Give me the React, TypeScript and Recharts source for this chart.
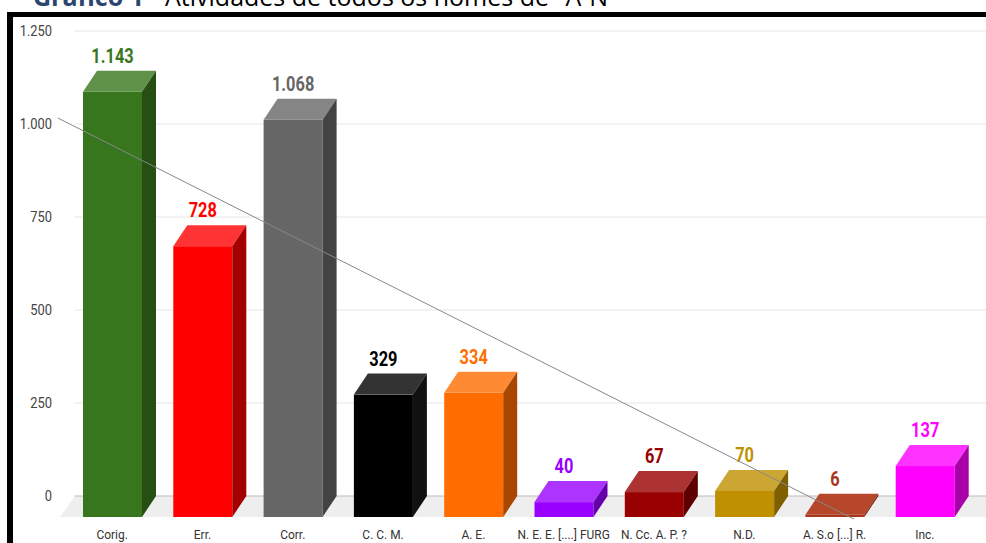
import React from 'react';
import { ComposedChart, Bar, XAxis, YAxis, ReferenceLine, ReferenceArea } from 'recharts';

const categories = ['Corig.', 'Err.', 'Corr.', 'C. C. M.', 'A. E.', 'N. E. E. [....] FURG', 'N. Cc. A. P. ?', 'N.D.', 'A. S.o [...] R.', 'Inc.'];
const values = [1143, 728, 1068, 329, 334, 40, 67, 70, 6, 137];
const frontColors = ['#38761d', '#ff0000', '#666666', '#000000', '#ff6d01', '#9900ff', '#990000', '#bf9000', '#a8361c', '#ff00ff'];
const topColors = ['#5f9148', '#ff3333', '#858585', '#333333', '#ff8a34', '#ad33ff', '#ad3333', '#cca633', '#b7472a', '#ff33ff'];
const sideColors = ['#274e13', '#a50000', '#434343', '#111111', '#a84800', '#6600aa', '#5e0000', '#7f6000', '#7a2410', '#aa00aa'];
const labelColors = ['#38761d', '#ff0000', '#666666', '#000000', '#ff6d01', '#9900ff', '#990000', '#bf9000', '#a8361c', '#ff00ff'];
const yTicks = [0, 250, 500, 750, 1000, 1250];

const data = categories.map((name, i) => ({ name, value: values[i], idx: i }));

const fmt = (v: number) => String(v).replace(/\B(?=(\d{3})+(?!\d))/g, '.');

// linear trend (least squares over category index)
const n = values.length;
const meanX = (n - 1) / 2;
const meanY = values.reduce((a, b) => a + b, 0) / n;
const slope =
  values.reduce((s, v, i) => s + (i - meanX) * (v - meanY), 0) /
  values.reduce((s, _v, i) => s + (i - meanX) * (i - meanX), 0);
const icept = meanY - slope * meanX;
const trendX0 = -0.6;
const trendY1 = -62;
const trendX1 = (trendY1 - icept) / slope;

const DX = 14;
const DY = 21;
const HALF_BAND = 45.15;

const Box3D = (props: any) => {
  const { x, y, width, height, payload } = props;
  const i = payload.idx;
  const bottom = y + height;
  const fy = y + DY;
  const fb = bottom + DY;
  return (
    <g>
      <rect x={x} y={fy} width={width} height={Math.max(height, 1)} fill={frontColors[i]} />
      <polygon
        points={`${x},${fy} ${x + DX},${y} ${x + width + DX},${y} ${x + width},${fy}`}
        fill={topColors[i]}
      />
      <polygon
        points={`${x + width},${fy} ${x + width + DX},${y} ${x + width + DX},${bottom} ${x + width},${fb}`}
        fill={sideColors[i]}
      />
      <text
        transform={`translate(${x + width / 2},${y - 8}) scale(0.78,1)`}
        textAnchor="middle"
        fontFamily="Roboto"
        fontWeight={700}
        fontSize={21}
        fill={labelColors[i]}
      >
        {fmt(values[i])}
      </text>
    </g>
  );
};

const YTick = (props: any) => {
  const { x, y, payload } = props;
  return (
    <text
      transform={`translate(${x},${y + 5}) scale(0.86,1)`}
      textAnchor="end"
      fontFamily="Roboto"
      fontSize={15}
      fill="#444444"
    >
      {fmt(payload.value)}
    </text>
  );
};

const XTick = (props: any) => {
  const { x, y, payload } = props;
  return (
    <text
      transform={`translate(${x},${y + 43}) scale(0.92,1)`}
      textAnchor="middle"
      fontFamily="Roboto"
      fontSize={13}
      fill="#333333"
    >
      {payload.value}
    </text>
  );
};

const Floor = (props: any) => {
  const { x, y, height } = props;
  const y0 = y + height;
  return (
    <polygon
      points={`${x + 8},${y0} 1000,${y0} 986,${y0 + DY} ${x - 7},${y0 + DY}`}
      fill="#eeeeee"
    />
  );
};

export default function App() {
  return (
    <div style={{ position: 'absolute', left: 0, top: 0, width: 986, height: 543, overflow: 'hidden', background: '#fff' }}>
      <div
        style={{
          position: 'absolute',
          left: 33,
          top: -19,
          fontFamily: '"Open Sans"',
          fontSize: 25,
          lineHeight: '30px',
          whiteSpace: 'nowrap',
          color: '#000',
        }}
      >
        <span style={{ color: '#2a4670', fontWeight: 700 }}>Gráfico 1</span> - Atividades de todos os nomes de "A-N"
      </div>
      <div
        style={{
          position: 'absolute',
          left: 7,
          top: 12,
          width: 1000,
          height: 600,
          borderLeft: '6px solid #000',
          borderTop: '5px solid #000',
          boxSizing: 'border-box',
        }}
      />
      <div style={{ position: 'absolute', left: 0, top: 0 }}>
        <ComposedChart
          width={986}
          height={543}
          data={data}
          margin={{ top: 31, right: 16, left: 7, bottom: 17 }}
          barSize={59}
        >
          <XAxis
            dataKey="name"
            axisLine={false}
            tickLine={false}
            tickSize={0}
            tickMargin={0}
            interval={0}
            height={30}
            tick={<XTick />}
          />
          <XAxis
            xAxisId="t"
            dataKey="idx"
            type="number"
            domain={[0, 9]}
            padding={{ left: HALF_BAND, right: HALF_BAND }}
            hide
            allowDataOverflow
          />
          <YAxis
            domain={[0, 1250]}
            ticks={yTicks}
            axisLine={false}
            tickLine={false}
            tickSize={0}
            tickMargin={15}
            width={60}
            tick={<YTick />}
          />
          <ReferenceArea
            xAxisId="t"
            x1={-0.5}
            x2={9.5}
            y1={0}
            y2={100}
            ifOverflow="visible"
            shape={<Floor />}
            zIndex={-200}
          />
          {yTicks.map((v) => (
            <ReferenceLine
              key={v}
              xAxisId="t"
              segment={[{ x: -0.415, y: v }, { x: 9.8, y: v }]}
              stroke={v === 0 ? '#bbbbbb' : '#e6e6e6'}
              strokeWidth={1}
              ifOverflow="visible"
              zIndex={-150}
            />
          ))}
          <Bar dataKey="value" shape={<Box3D />} isAnimationActive={false} />
          <ReferenceLine
            xAxisId="t"
            segment={[
              { x: trendX0, y: icept + slope * trendX0 },
              { x: trendX1, y: trendY1 },
            ]}
            stroke="#888888"
            strokeWidth={1}
            ifOverflow="visible"
            zIndex={1500}
          />
        </ComposedChart>
      </div>
    </div>
  );
}
